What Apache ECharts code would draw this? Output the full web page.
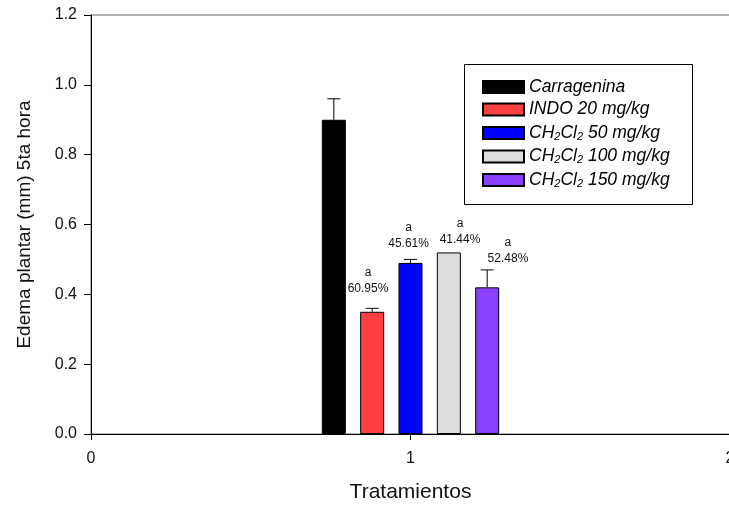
<!DOCTYPE html>
<html>
<head>
<meta charset="utf-8">
<script src="https://cdn.jsdelivr.net/npm/echarts@6/dist/echarts.min.js"></script>
<style>html,body{margin:0;padding:0;background:#fff}#c{width:729px;height:507px}</style>
</head>
<body>
<div id="c"></div>
<script>
const categories = ['Carragenina', 'INDO 20 mg/kg', 'CH2Cl2 50 mg/kg', 'CH2Cl2 100 mg/kg', 'CH2Cl2 150 mg/kg'];
const xPos = [0.76, 0.88, 1.0, 1.12, 1.24];
const means = [0.90, 0.35, 0.49, 0.52, 0.42];
const errors = [0.06, 0.01, 0.01, 0.0, 0.05];
const letters = ['', 'a', 'a', 'a', 'a'];
const percents = ['', '60.95%', '45.61%', '41.44%', '52.48%'];
const labelX = [null, 0.867, 0.994, 1.155, 1.305];
const labelY = [null, 0.415, 0.544, 0.556, 0.501];
const colors = ['#000000', '#FF4040', '#0000FF', '#DDDDDD', '#8B40FF'];
const xTicks = [0, 1, 2];
const yTicks = [0, 0.2, 0.4, 0.6, 0.8, 1.0, 1.2];

const FONT = 'Liberation Sans, Arial, sans-serif';
const chart = echarts.init(document.getElementById('c'), null, {renderer: 'canvas'});

const barSeries = categories.map((name, i) => ({
  name: name,
  type: 'bar',
  barWidth: 24,
  barGap: '-100%',
  itemStyle: {color: colors[i], borderColor: '#000', borderWidth: 1},
  data: [[xPos[i], means[i]]],
  z: 2,
  animation: false
}));

const errSeries = {
  type: 'custom',
  data: xPos.map((x, i) => [x, means[i], errors[i]]),
  z: 1,
  silent: true,
  animation: false,
  renderItem: function (params, api) {
    const x = api.value(0), m = api.value(1), e = api.value(2);
    if (!e) return null;
    const p0 = api.coord([x, m]);
    const p1 = api.coord([x, m + e]);
    return {
      type: 'group',
      children: [
        {type: 'line', shape: {x1: p0[0], y1: p0[1], x2: p1[0], y2: p1[1]}, style: {stroke: '#000', lineWidth: 1}},
        {type: 'line', shape: {x1: p1[0] - 6.5, y1: p1[1], x2: p1[0] + 6.5, y2: p1[1]}, style: {stroke: '#000', lineWidth: 1}}
      ]
    };
  }
};

const labelSeries = {
  type: 'custom',
  data: labelX.map((x, i) => [x, labelY[i], i]).filter(d => d[0] !== null),
  z: 3,
  silent: true,
  animation: false,
  renderItem: function (params, api) {
    const idx = api.value(2);
    const p = api.coord([api.value(0), api.value(1)]);
    return {
      type: 'group',
      children: [
        {type: 'text', style: {text: letters[idx], x: p[0], y: p[1] - 16, align: 'center', verticalAlign: 'middle', fontSize: 12, fontFamily: FONT, fill: '#111'}},
        {type: 'text', style: {text: percents[idx], x: p[0], y: p[1], align: 'center', verticalAlign: 'middle', fontSize: 12, fontFamily: FONT, fill: '#111'}}
      ]
    };
  }
};

function legendFmt(name) {
  const m = name.match(/^CH2Cl2 (.*)$/);
  if (m) return '{t|CH}{s|2}{t|Cl}{s|2}{t| ' + m[1] + '}';
  return '{t|' + name + '}';
}

chart.setOption({
  animation: false,
  backgroundColor: '#fff',
  textStyle: {fontFamily: FONT},
  grid: {left: 91, top: 15, width: 639, height: 419, outerBoundsMode: 'none', containLabel: false,
         show: true, borderColor: '#666', borderWidth: 1, backgroundColor: 'transparent'},
  legend: {
    orient: 'vertical',
    left: 477,
    top: 73,
    itemWidth: 41,
    itemHeight: 12,
    itemGap: 4.5,
    icon: 'rect',
    selectedMode: false,
    data: categories,
    formatter: legendFmt,
    textStyle: {
      color: '#000',
      rich: {
        t: {fontSize: 17.5, fontStyle: 'italic', fontFamily: FONT, color: '#000', lineHeight: 18},
        s: {fontSize: 11, fontStyle: 'italic', fontFamily: FONT, color: '#000', lineHeight: 18, verticalAlign: 'bottom', padding: [8, 0, 0, 0]}
      }
    }
  },
  graphic: [{
    type: 'rect', left: 464, top: 64, shape: {width: 228, height: 140},
    style: {fill: '#fff', stroke: '#000', lineWidth: 1}, z: 0
  }],
  xAxis: {
    type: 'value', min: 0, max: 2, interval: 1,
    name: 'Tratamientos', nameLocation: 'middle', nameGap: 48,
    nameTextStyle: {fontSize: 21, color: '#111'},
    axisLine: {show: true, onZero: false, lineStyle: {color: '#000', width: 1}},
    axisTick: {show: true, length: 6, lineStyle: {color: '#000'}},
    axisLabel: {fontSize: 16, color: '#111', margin: 17, showMaxLabel: true, formatter: v => String(v)},
    splitLine: {show: false}
  },
  yAxis: {
    type: 'value', min: 0, max: 1.2, interval: 0.2,
    name: 'Edema plantar (mm) 5ta hora', nameLocation: 'middle', nameGap: 57,
    nameTextStyle: {fontSize: 19, color: '#111'},
    axisLine: {show: true, lineStyle: {color: '#000', width: 1}},
    axisTick: {show: true, length: 7, lineStyle: {color: '#000'}},
    axisLabel: {fontSize: 16, color: '#111', margin: 14, formatter: v => v.toFixed(1)},
    splitLine: {show: false}
  },
  series: barSeries.concat([errSeries, labelSeries])
});
</script>
</body>
</html>
